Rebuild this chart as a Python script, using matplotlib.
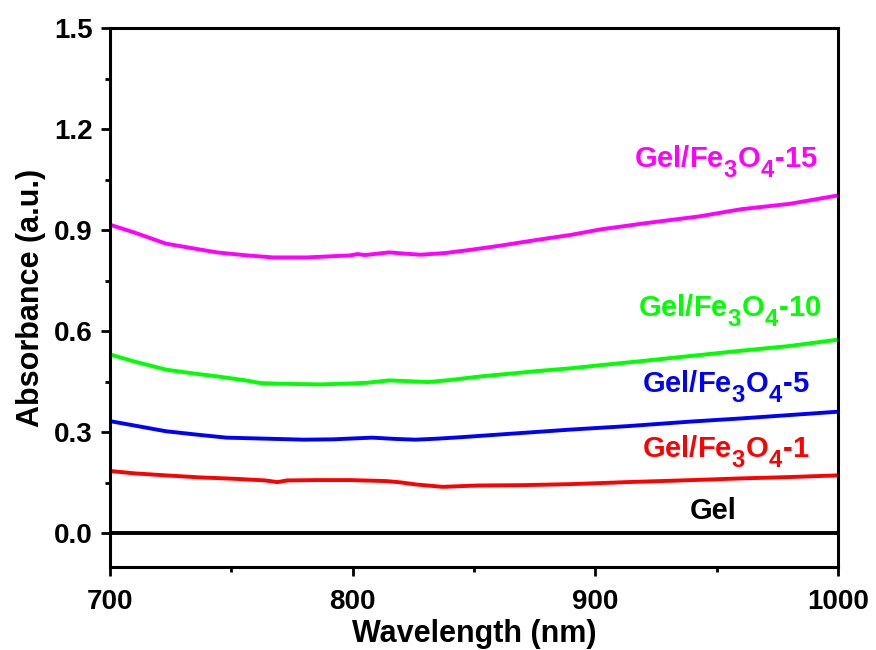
import matplotlib
matplotlib.use("Agg")
import matplotlib.pyplot as plt
from matplotlib.ticker import MultipleLocator, FormatStrFormatter

plt.rcParams['font.family'] = ['Liberation Sans', 'DejaVu Sans']
plt.rcParams['font.weight'] = 'bold'
plt.rcParams['mathtext.fontset'] = 'custom'
plt.rcParams['mathtext.rm'] = 'Liberation Sans:bold'
plt.rcParams['mathtext.bf'] = 'Liberation Sans:bold'
plt.rcParams['mathtext.it'] = 'Liberation Sans:bold'

# Larger, lower subscripts for the chemical formulas
try:
    from matplotlib import _mathtext
    _mathtext.SHRINK_FACTOR = 0.82
    _mathtext.FontConstantsBase.sub1 = 0.65
    _mathtext.FontConstantsBase.sub2 = 0.65
except Exception:
    pass

# Absorbance spectra (wavelength in nm, absorbance in a.u.)
wl_gel = [700, 800, 900, 1000]
abs_gel = [0.0, 0.0, 0.0, 0.0]

wl_1 = [700, 710, 723, 737, 751, 764, 769, 773, 785, 799, 814, 820, 826, 837,
        852, 870, 890, 913, 940, 960, 980, 1000]
abs_1 = [0.185, 0.178, 0.172, 0.166, 0.162, 0.157, 0.152, 0.157, 0.158, 0.158,
         0.155, 0.151, 0.145, 0.138, 0.142, 0.143, 0.146, 0.152, 0.158, 0.163,
         0.167, 0.172]

wl_5 = [700, 710, 723, 737, 748, 764, 780, 792, 808, 818, 826, 835, 844, 852,
        870, 890, 913, 940, 960, 980, 1000]
abs_5 = [0.333, 0.320, 0.303, 0.292, 0.284, 0.281, 0.278, 0.279, 0.284, 0.280,
         0.278, 0.281, 0.285, 0.289, 0.298, 0.308, 0.318, 0.332, 0.341, 0.351,
         0.361]

wl_10 = [700, 710, 723, 735, 744, 755, 762, 770, 787, 800, 806, 815, 822, 831,
         840, 853, 865, 875, 890, 902, 920, 940, 960, 980, 1000]
abs_10 = [0.531, 0.510, 0.486, 0.474, 0.466, 0.455, 0.446, 0.444, 0.442, 0.445,
          0.447, 0.454, 0.452, 0.449, 0.455, 0.466, 0.474, 0.481, 0.490, 0.499,
          0.512, 0.527, 0.542, 0.556, 0.575]

wl_15 = [700, 710, 723, 735, 744, 755, 767, 781, 790, 799, 802, 805, 815, 822,
         828, 838, 847, 860, 875, 890, 902, 920, 943, 960, 980, 1000]
abs_15 = [0.916, 0.893, 0.860, 0.845, 0.834, 0.826, 0.819, 0.819, 0.822, 0.825,
          0.829, 0.826, 0.834, 0.830, 0.827, 0.832, 0.840, 0.853, 0.870, 0.886,
          0.902, 0.920, 0.941, 0.962, 0.978, 1.003]

series = [
    (wl_gel, abs_gel, 'black'),
    (wl_1, abs_1, '#FF0000'),
    (wl_5, abs_5, '#0000FF'),
    (wl_10, abs_10, '#00FF00'),
    (wl_15, abs_15, '#FF00FF'),
]

labels = ['Gel',
          r'Gel/Fe$_\mathbf{3}$O$_\mathbf{4}$-1',
          r'Gel/Fe$_\mathbf{3}$O$_\mathbf{4}$-5',
          r'Gel/Fe$_\mathbf{3}$O$_\mathbf{4}$-10',
          r'Gel/Fe$_\mathbf{3}$O$_\mathbf{4}$-15']
label_x = [948.7, 953.6, 953.6, 955.5, 954.0]
label_y = [0.042, 0.225, 0.418, 0.643, 1.085]

fig = plt.figure(figsize=(8.76, 6.5), dpi=100)
ax = fig.add_axes([0.1256, 0.1277, 0.8310, 0.8292])

for (x, y, c), lab, lx, ly in zip(series, labels, label_x, label_y):
    ax.plot(x, y, color=c, lw=2.8, solid_joinstyle='round')
    ax.text(lx, ly, lab, color=c, fontsize=21, fontweight='bold',
            ha='center', va='baseline')

ax.set_xlim(700, 1000)
ax.set_ylim(-0.1, 1.5)
ax.xaxis.set_major_locator(MultipleLocator(100))
ax.xaxis.set_minor_locator(MultipleLocator(50))
ax.yaxis.set_major_locator(MultipleLocator(0.3))
ax.yaxis.set_minor_locator(MultipleLocator(0.15))
ax.yaxis.set_major_formatter(FormatStrFormatter('%.1f'))

for s in ax.spines.values():
    s.set_linewidth(2.2)
ax.tick_params(which='both', direction='out', top=False, right=False, width=2.0)
ax.tick_params(which='major', length=6.5, labelsize=20)
ax.tick_params(axis='x', which='major', pad=9)
ax.tick_params(axis='y', which='major', pad=6)
ax.tick_params(which='minor', length=3.5)
for t in ax.get_xticklabels() + ax.get_yticklabels():
    t.set_fontweight('bold')

ax.set_xlabel('Wavelength (nm)', fontsize=22, fontweight='bold', labelpad=3)
ax.set_ylabel('Absorbance (a.u.)', fontsize=22, fontweight='bold', labelpad=6)

fig.savefig('out.png', dpi=100)
